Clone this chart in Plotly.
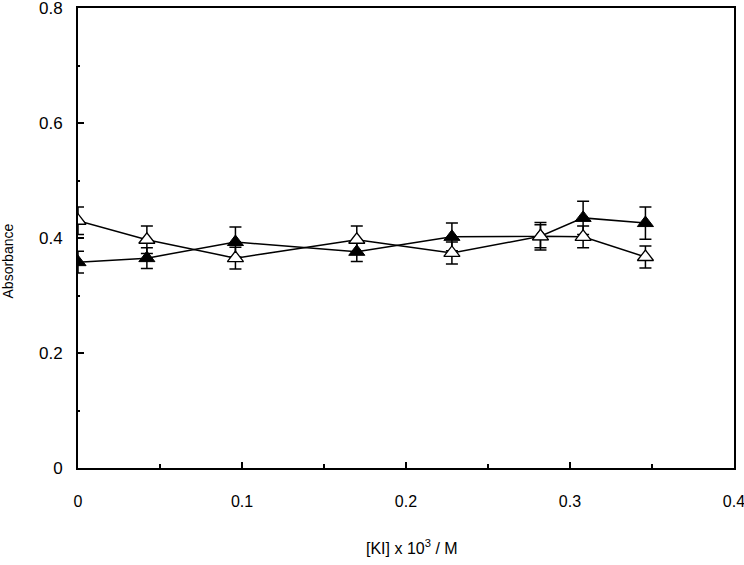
import plotly.graph_objects as go

ki = [0.0, 0.042, 0.096, 0.170, 0.228, 0.282, 0.308, 0.346]
abs_open = [0.430, 0.397, 0.365, 0.397, 0.374, 0.403, 0.402, 0.367]
err_open = [0.024, 0.024, 0.019, 0.024, 0.019, 0.020, 0.019, 0.019]
abs_filled = [0.358, 0.365, 0.393, 0.376, 0.402, 0.403, 0.435, 0.426]
err_filled = [0.019, 0.018, 0.026, 0.017, 0.024, 0.024, 0.029, 0.028]

x_ticks = [0, 0.1, 0.2, 0.3, 0.4]
x_ticklabels = ["0", "0.1", "0.2", "0.3", "0.4"]
y_ticks = [0, 0.2, 0.4, 0.6, 0.8]
y_ticklabels = ["0", "0.2", "0.4", "0.6", "0.8"]

FONT = "Liberation Sans, Arial"

fig = go.Figure()
fig.add_trace(go.Scatter(
    x=ki, y=abs_filled, mode="lines+markers",
    line=dict(color="black", width=1.5),
    marker=dict(symbol="triangle-up", size=14, color="black",
                line=dict(color="black", width=1)),
    error_y=dict(type="data", array=err_filled, color="black",
                 thickness=1.5, width=6),
    showlegend=False,
))
fig.add_trace(go.Scatter(
    x=ki, y=abs_open, mode="lines+markers",
    line=dict(color="black", width=1.5),
    marker=dict(symbol="triangle-up", size=14, color="white",
                line=dict(color="black", width=1.3)),
    error_y=dict(type="data", array=err_open, color="black",
                 thickness=1.5, width=6),
    showlegend=False,
))

fig.update_layout(
    width=744, height=565,
    margin=dict(l=78, r=10, t=8, b=97),
    paper_bgcolor="white", plot_bgcolor="white",
    font=dict(family=FONT, size=17, color="black"),
    xaxis=dict(
        range=[0, 0.40001], tickvals=x_ticks, ticktext=x_ticklabels,
        automargin=False, ticklabeloverflow="allow",
        showgrid=False, zeroline=False, showline=True, mirror=True,
        linecolor="black", linewidth=2,
        ticks="inside", ticklen=6, tickwidth=1.5, tickcolor="black",
        minor=dict(dtick=0.05, ticks="inside", ticklen=4, tickwidth=1.5,
                   tickcolor="black", showgrid=False),
        ticklabelstandoff=18,
        tickfont=dict(family=FONT, size=16),
    ),
    yaxis=dict(
        range=[0, 0.80001], tickvals=y_ticks, ticktext=y_ticklabels,
        automargin=False, ticklabeloverflow="allow",
        showgrid=False, zeroline=False, showline=True, mirror=True,
        linecolor="black", linewidth=2,
        ticks="inside", ticklen=6, tickwidth=1.5, tickcolor="black",
        minor=dict(dtick=0.1, ticks="inside", ticklen=2, tickwidth=1.5,
                   tickcolor="black", showgrid=False),
        ticklabelstandoff=10,
        tickfont=dict(family=FONT, size=17),
    ),
    annotations=[
        dict(text="[KI] x 10<sup>3</sup> / M", xref="paper", yref="paper",
             x=0.509, y=-0.172, xanchor="center", yanchor="middle",
             showarrow=False, font=dict(family=FONT, size=16)),
        dict(text="Absorbance", xref="paper", yref="paper",
             x=-0.106, y=0.45, xanchor="center", yanchor="middle",
             textangle=-90, showarrow=False,
             font=dict(family=FONT, size=14)),
    ],
)

fig.write_html("out.html", config={"displayModeBar": False},
               post_script="document.body.style.margin='0';document.body.style.overflow='hidden';")
